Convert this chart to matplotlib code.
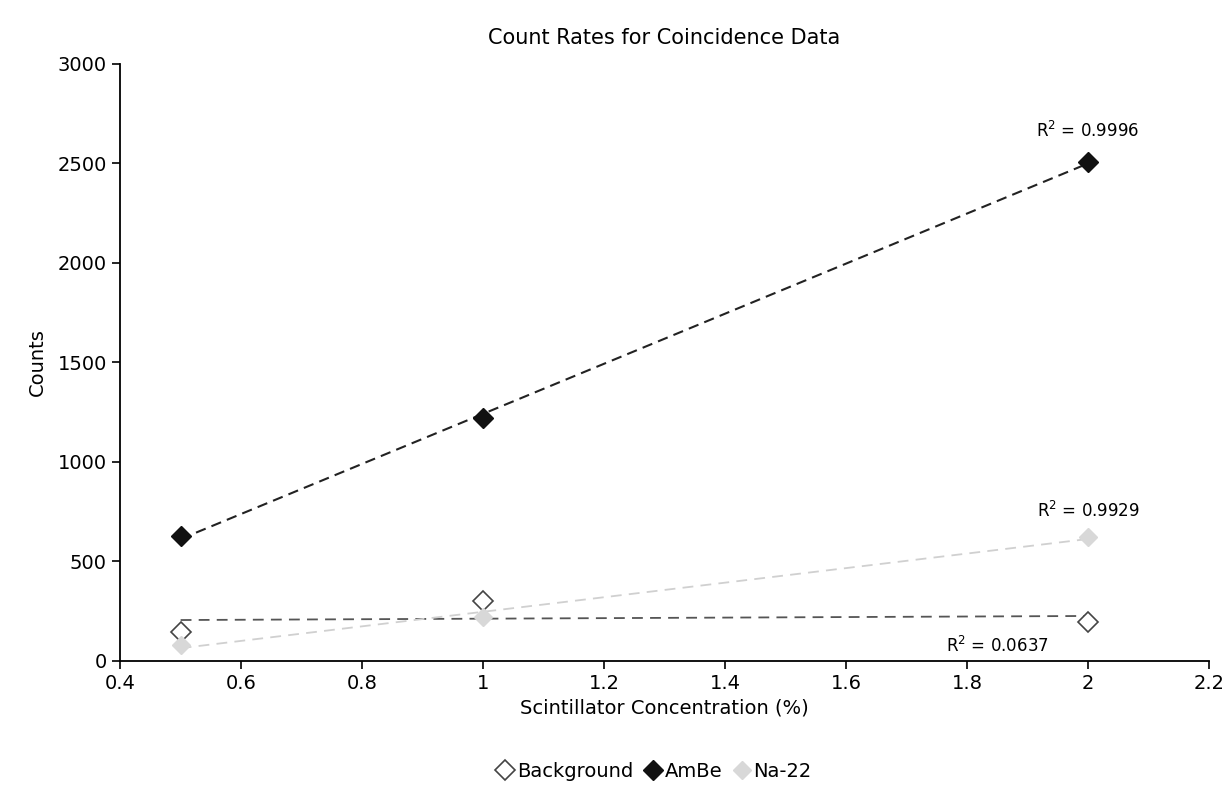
import matplotlib.pyplot as plt
import numpy as np

conc = [0.5, 1.0, 2.0]
background = [145, 300, 195]
ambe = [625, 1220, 2505]
na22 = [80, 220, 620]

r2_labels = {"Background": "0.0637", "AmBe": "0.9996", "Na-22": "0.9929"}


def trend(x, y):
    k, b = np.polyfit(x, y, 1)
    xs = np.array([min(x), max(x)])
    return xs, k * xs + b


fig = plt.figure(figsize=(12.26, 7.96), dpi=100, facecolor='white')
ax = fig.add_axes([0.098, 0.17, 0.888, 0.75])

# linear trendlines first so the markers sit on top
xs, ys = trend(conc, background)
ax.plot(xs, ys, linestyle=(0, (6, 4)), color="#555555", linewidth=1.3)
xs, ys = trend(conc, ambe)
ax.plot(xs, ys, linestyle=(0, (5, 3)), color="#222222", linewidth=1.5)
xs, ys = trend(conc, na22)
ax.plot(xs, ys, linestyle=(0, (6, 4)), color="#d0d0d0", linewidth=1.3)

ax.plot(conc, background, linestyle="none", marker="D", markersize=10,
        markerfacecolor="white", markeredgecolor="#444444", markeredgewidth=1.2,
        label="Background")
ax.plot(conc, ambe, linestyle="none", marker="D", markersize=10,
        color="#111111", label="AmBe")
ax.plot(conc, na22, linestyle="none", marker="D", markersize=9,
        color="#d8d8d8", label="Na-22")

ax.text(2.0, 2610, r"R$^2$ = " + r2_labels["AmBe"], fontsize=12, ha="center", va="bottom")
ax.text(2.0, 700, r"R$^2$ = " + r2_labels["Na-22"], fontsize=12, ha="center", va="bottom")
ax.text(1.85, 25, r"R$^2$ = " + r2_labels["Background"], fontsize=12, ha="center", va="bottom")

ax.set_xlim(0.4, 2.2)
ax.set_ylim(0, 3000)
ax.set_xticks(np.arange(0.4, 2.21, 0.2))
ax.set_xticklabels(["0.4", "0.6", "0.8", "1", "1.2", "1.4", "1.6", "1.8", "2", "2.2"])
ax.set_yticks(range(0, 3001, 500))
ax.tick_params(labelsize=14, direction="out", length=6, width=1.2)
for side in ("top", "right"):
    ax.spines[side].set_visible(False)
for side in ("left", "bottom"):
    ax.spines[side].set_linewidth(1.3)

ax.set_title("Count Rates for Coincidence Data", fontsize=15, pad=14)
ax.set_xlabel("Scintillator Concentration (%)", fontsize=14, labelpad=4)
ax.set_ylabel("Counts", fontsize=14, labelpad=8)

ax.legend(loc="upper center", bbox_to_anchor=(0.49, -0.14), ncol=3, frameon=False,
          fontsize=14, handletextpad=0.1, columnspacing=0.5, handlelength=1.0)

plt.savefig("out.png", dpi=100, facecolor='white')
